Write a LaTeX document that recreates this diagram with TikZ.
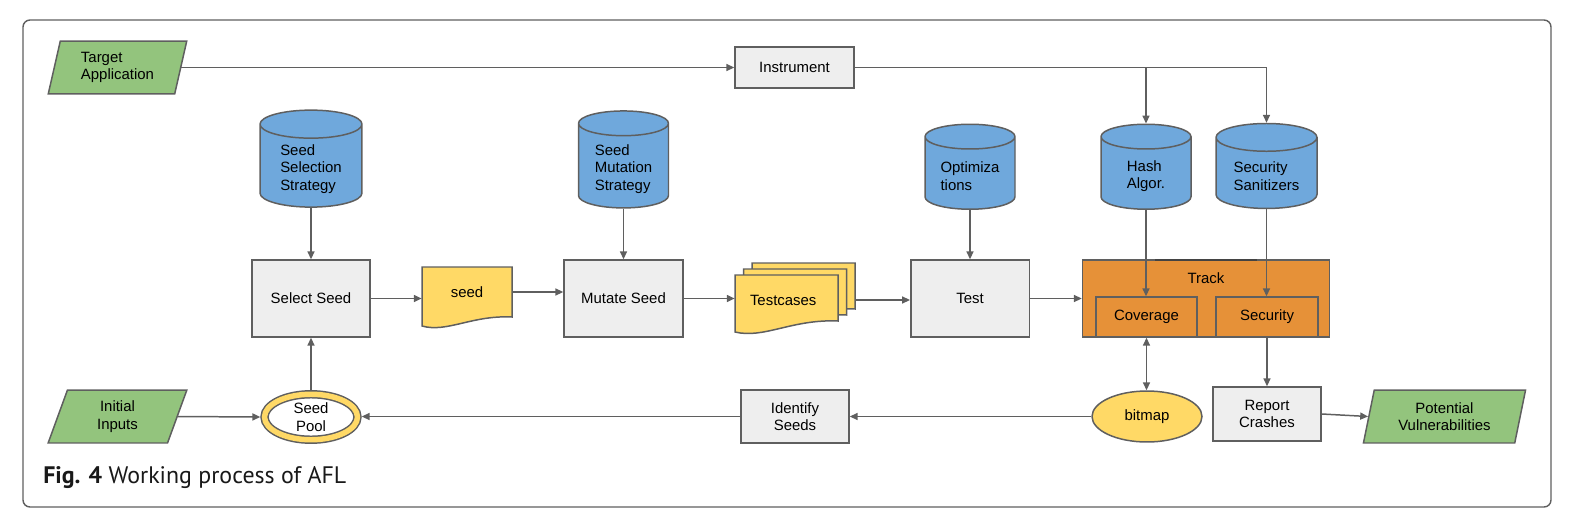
\documentclass[tikz,border=0pt]{standalone}
\usepackage{fontspec}
\setmainfont{Liberation Sans}
\newfontfamily\legende{PT Sans}
\usetikzlibrary{shapes.geometric,arrows.meta}
\definecolor{vert}{HTML}{93C47D}
\definecolor{bleu}{HTML}{6FA8DC}
\definecolor{orange}{HTML}{E69138}
\definecolor{jaune}{HTML}{FFD966}
\definecolor{gris}{HTML}{EEEEEE}
\definecolor{trait}{HTML}{5F5F5F}
\begin{document}
\begin{tikzpicture}[x=0.02cm,y=-0.02cm,
	every node/.style={font=\fontsize{8.5}{10}\selectfont,inner sep=0pt},
	trait/.style={draw=trait,line width=0.85pt},
	fleche/.style={trait,-{Triangle[length=4.5pt,width=4pt]}},
	doublefleche/.style={trait,{Triangle[length=4.5pt,width=4pt]}-{Triangle[length=4.5pt,width=4pt]}},
	boite/.style={rectangle,trait,fill=gris,align=center},
	cuve/.style 2 args={cylinder,shape border rotate=90,aspect=0.275,trait,fill=bleu,text width=#1,label={[align=left,yshift=-0.06cm]center:#2}},
	entree/.style={trapezium,trapezium left angle=76,trapezium right angle=104,trapezium stretches=true,trait,fill=vert,minimum height=1.06cm}]
		\useasboundingbox (0,0) rectangle (1576,524);
		\draw[trait,line width=0.8pt,rounded corners=4pt] (23,20) rectangle (1551,507);%cadre
		
		% ligne du haut
		\node[entree,minimum width=2.78cm,align=left] (cible) at (117.5,67.5) {Target\\Application};
		\node[boite,minimum width=2.38cm,minimum height=0.82cm] (instru) at (794.5,67.5) {Instrument};
		
		\node[cuve={2.04cm}{Seed\\Selection\\Strategy},minimum height=1.94cm] (strasel) at (311,166) {};
		\node[cuve={1.8cm}{Seed\\Mutation\\Strategy},minimum height=1.94cm] (stramut) at (623.5,166) {};
		\node[cuve={1.8cm}{Optimiza\\tions},minimum height=1.7cm] (optim) at (970,173.3) {};
		\node[cuve={1.8cm}{Hash\\Algor.},minimum height=1.7cm] (hash) at (1146,173.3) {};
		\node[cuve={2.02cm}{Security\\Sanitizers},minimum height=1.7cm] (secan) at (1266.5,173.3) {};
		
		% ligne du milieu
		\node[boite,minimum width=2.37cm,minimum height=1.54cm] (choix) at (311,298.5) {Select Seed};
		\filldraw[trait,fill=jaune] (422,267) -- (512,267) -- (512,317) .. controls (472,315) and (447,333) .. (422,326) -- cycle;%feuille
		\node[minimum width=1.8cm,minimum height=1cm] (graine) at (467,292) {seed};
		\node[boite,minimum width=2.38cm,minimum height=1.54cm] (mutation) at (623.5,298.5) {Mutate Seed};
		\foreach \d in {2,1,0}{
			\filldraw[trait,fill=jaune,shift={(8.5*\d,-6*\d)}] (735,275) -- (838,275) -- (838,321) .. controls (792,319) and (764,339) .. (735,332) -- cycle; }
		\node[text width=1.8cm,inner xsep=0.3cm,align=left] (essais) at (795,300) {Testcases};
		\node[boite,minimum width=2.37cm,minimum height=1.54cm] (test) at (970,298.5) {Test};
		
		\node[boite,fill=orange,minimum width=4.94cm,minimum height=1.54cm] (suivi) at (1206,298.5) {};
		\draw[line width=1.2pt,trait!70!black] (1155,260) -- (1257,260);
		\node (titre) at (1206,278) {Track};
		\node[boite,fill=orange,minimum width=2.02cm,minimum height=0.8cm] (couv) at (1146.5,317) {Coverage};
		\node[boite,fill=orange,minimum width=2.04cm,minimum height=0.8cm] (secu) at (1267,317) {Security};
		
		% ligne du bas
		\node[entree,minimum width=2.78cm,align=center] (initiales) at (117.5,416.5) {Initial\\Inputs};
		\node[ellipse,draw=trait,line width=0.85pt,double=jaune,double distance=3.1pt,fill=white,minimum width=1.86cm,minimum height=0.91cm,outer sep=2.4pt,align=center] (reserve) at (311,417) {Seed\\Pool};
		\node[boite,minimum width=2.16cm,minimum height=1.06cm] (identif) at (795,416.5) {Identify\\Seeds};
		\node[ellipse,trait,fill=jaune,minimum width=2.2cm,minimum height=1.02cm] (bitmap) at (1147,416.5) {bitmap};
		\node[boite,minimum width=2.16cm,minimum height=1.08cm] (rapport) at (1267,414) {Report\\Crashes};
		\node[entree,minimum width=3.26cm,align=center] (failles) at (1444.5,416.5) {Potential\\Vulnerabilities};
		
		% fleches
		\draw[fleche] (cible.east) -- (cible.east -| instru.west);
		\draw[fleche] (instru.east) -| (hash.north);
		\draw[fleche] (instru.east) -| (secan.north);
		\draw[fleche] (strasel.south) -- (strasel.south |- choix.north);
		\draw[fleche] (stramut.south) -- (stramut.south |- mutation.north);
		\draw[fleche] (optim.south) -- (optim.south |- test.north);
		\draw[fleche] (hash.south) -- (hash.south |- couv.north);
		\draw[fleche] (secan.south) -- (secan.south |- secu.north);
		
		\draw[fleche] (choix.east) -- (choix.east -| graine.west);
		\draw[fleche] (graine.east) -- (graine.east -| mutation.west);
		\draw[fleche] (mutation.east) -- (mutation.east -| essais.west);
		\draw[fleche] (essais.east) -- (essais.east -| test.west);
		\draw[fleche] (test.east) -- (test.east -| suivi.west);
		
		\draw[fleche] (initiales.east) -- (reserve.west);
		\draw[fleche] (reserve.north) -- (reserve.north |- choix.south);
		\draw[fleche] (identif.west) -- (identif.west -| reserve.east);
		\draw[fleche] (bitmap.west) -- (bitmap.west -| identif.east);
		\draw[doublefleche] (couv.south) -- (couv.south |- bitmap.north);
		\draw[fleche] (secu.south) -- (secu.south |- rapport.north);
		\draw[fleche] (rapport.east) -- (failles.west);
		
		\node[anchor=base west,font=\legende\fontsize{13.6}{15}\selectfont,text=black!90] (legende) at (43,483) {\textbf{Fig. 4} Working process of AFL};
	\end{tikzpicture}
\end{document}
